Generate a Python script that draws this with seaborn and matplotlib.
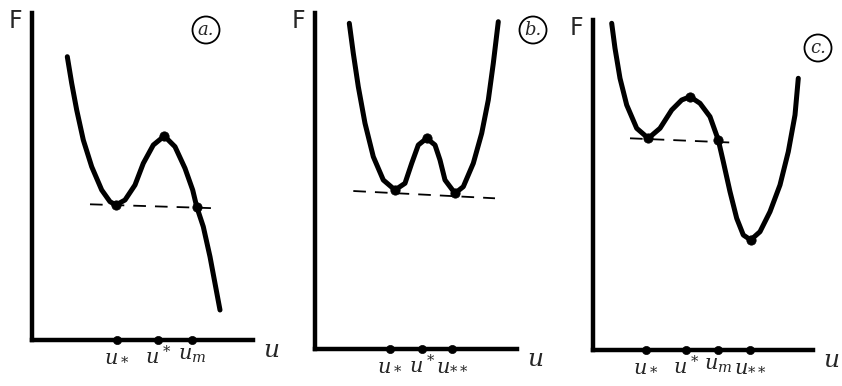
import matplotlib
matplotlib.use("Agg")
import matplotlib.pyplot as plt
import seaborn as sns
import pandas as pd

sns.set_style("white")
plt.rcParams['font.family'] = ['DejaVu Sans']
plt.rcParams['mathtext.fontset'] = 'dejavuserif'

# ---- Panel a ----
a_u = [35.3, 39.7, 44.7, 51.3, 59.7, 69.7, 78, 84, 93, 103, 111.3, 121.3, 132.3,
       143, 153, 160.7, 164.7, 171.3, 178, 188]
a_F = [283.3, 256.7, 230, 200, 173.3, 150, 138.3, 135, 140, 155, 176.7, 195, 204,
       193.3, 171.7, 150, 133.3, 113.3, 83.3, 30]
a_dash_u = [58, 185]
a_dash_F = [135.7, 131.7]
a_pts_u = [84, 132.3, 164.7]
a_pts_F = [135, 204, 133.3]
a_ticks = [85, 126, 160]
a_labels = [r"$u_*$", r"$u^*$", r"$u_m$"]

# ---- Panel b ----
b_u = [34.3, 38.3, 43.3, 50, 58.3, 68.3, 80, 90, 96.7, 103.3, 111.7, 120, 125, 130,
       140, 148.3, 158.3, 166.7, 173.3, 178.3, 183.3]
b_F = [325.7, 295.7, 262.3, 225.7, 192.3, 169, 159, 165.7, 185.7, 204, 210.7, 204,
       189, 169, 155.7, 162.3, 185.7, 215.7, 249, 285.7, 327.3]
b_dash_u = [38.3, 180]
b_dash_F = [158, 150.7]
b_pts_u = [80, 111.7, 140]
b_pts_F = [159, 210.7, 155.7]
b_ticks = [75, 107, 137]
b_labels = [r"$u_*$", r"$u^*$", r"$u_{**}$"]

# ---- Panel c ----
c_u = [18.7, 22, 27, 33.7, 43.7, 55.3, 67, 78.7, 88.7, 97, 107, 117, 125.3, 130.3,
       137, 143.7, 150.3, 157.7, 167, 177, 187, 195.3, 202, 205.3]
c_F = [326.7, 301.7, 271.7, 245, 221.7, 211.7, 221.7, 240, 250, 253.3, 246.7, 233.3,
       210, 188.3, 158.3, 131.7, 115, 110, 118.3, 138.3, 165, 198.3, 235, 271.7]
c_dash_u = [37, 142]
c_dash_F = [211.7, 207.3]
c_pts_u = [55.3, 97, 125.3, 157.7]
c_pts_F = [211.7, 253.3, 210, 110]
c_ticks = [53, 93, 125, 157]
c_labels = [r"$u_*$", r"$u^*$", r"$u_m$", r"$u_{**}$"]

panels = [
    dict(origin=(32, 340), w=221, h=327, u=a_u, F=a_F, du=a_dash_u, dF=a_dash_F,
         pu=a_pts_u, pF=a_pts_F, ticks=a_ticks, labels=a_labels, tag="a.",
         tagpos=(206, 30)),
    dict(origin=(315, 349), w=202, h=336, u=b_u, F=b_F, du=b_dash_u, dF=b_dash_F,
         pu=b_pts_u, pF=b_pts_F, ticks=b_ticks, labels=b_labels, tag="b.",
         tagpos=(533, 30)),
    dict(origin=(593, 350), w=220, h=330, u=c_u, F=c_F, du=c_dash_u, dF=c_dash_F,
         pu=c_pts_u, pF=c_pts_F, ticks=c_ticks, labels=c_labels, tag="c.",
         tagpos=(818, 48)),
]

W, H = 842, 386
fig = plt.figure(figsize=(W / 100, H / 100), dpi=100)
fig.patch.set_facecolor("white")

for p in panels:
    ox, oy = p["origin"]
    ax = fig.add_axes([ox / W, (H - oy) / H, p["w"] / W, p["h"] / H])
    ax.set_xlim(0, p["w"])
    ax.set_ylim(0, p["h"])
    ax.patch.set_alpha(0)
    for s in ["top", "right"]:
        ax.spines[s].set_visible(False)
    for s in ["left", "bottom"]:
        ax.spines[s].set_linewidth(3.2)
        ax.spines[s].set_color("black")
    ax.set_xticks([])
    ax.set_yticks([])

    df = pd.DataFrame({"u": p["u"], "F": p["F"]})
    sns.lineplot(data=df, x="u", y="F", sort=False, ax=ax, color="black",
                 linewidth=3.6, clip_on=False, solid_joinstyle="round",
                 solid_capstyle="round")
    dd = pd.DataFrame({"u": p["du"], "F": p["dF"]})
    sns.lineplot(data=dd, x="u", y="F", sort=False, ax=ax, color="black",
                 linewidth=1.3, linestyle=(0, (7, 5)))
    pp = pd.DataFrame({"u": p["pu"], "F": p["pF"]})
    sns.scatterplot(data=pp, x="u", y="F", ax=ax, color="black", s=45,
                    edgecolor="black", zorder=5)
    tk = pd.DataFrame({"u": p["ticks"], "F": [0] * len(p["ticks"])})
    sns.scatterplot(data=tk, x="u", y="F", ax=ax, color="black", s=35,
                    edgecolor="black", zorder=5, clip_on=False)
    for t, lab in zip(p["ticks"], p["labels"]):
        ax.text(t, -5, lab, ha="center", va="top", fontsize=15)
    ax.set_xlabel("")
    ax.set_ylabel("")
    # axis names
    ax.text(-10, p["h"] - 8, "F", ha="right", va="center", fontsize=17,
            family="DejaVu Sans")
    ax.text(p["w"] + 10, -10, r"$u$", ha="left", va="center", fontsize=18)
    # circled panel tag
    fig.text(p["tagpos"][0] / W, 1 - p["tagpos"][1] / H, p["tag"],
             ha="center", va="center", fontsize=13, style="italic",
             family="DejaVu Serif",
             bbox=dict(boxstyle="circle,pad=0.25", fc="white", ec="black", lw=1.3))

fig.savefig("out.png", dpi=100, facecolor="white")
